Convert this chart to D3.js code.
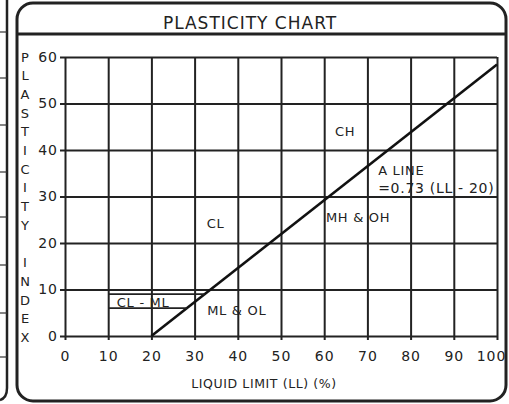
<!DOCTYPE html>
<html>
<head>
<meta charset="utf-8">
<script src="https://cdn.jsdelivr.net/npm/d3@7"></script>
<style>
  body { margin: 0; background: #fff; }
  text { font-family: "DejaVu Sans", sans-serif; fill: #222; }
</style>
</head>
<body>
<div id="grafica"></div>
<script>
// valores
var llTicks = [0, 10, 20, 30, 40, 50, 60, 70, 80, 90, 100];
var piTicks = [0, 10, 20, 30, 40, 50, 60];
var aLine = [{ ll: 20, pi: 0 }, { ll: 100, pi: 58.4 }];
var clmlTop = [{ ll: 10, pi: 9 }, { ll: 32.3, pi: 9 }];
var clmlBottom = [{ ll: 10, pi: 6 }, { ll: 28.2, pi: 6 }];
var zoneNames = ["CH", "A LINE", "=0.73 (LL - 20)", "CL", "MH & OH", "ML & OL", "CL - ML"];
var zoneLL = [62.5, 72.5, 72.5, 32.8, 60.4, 32.9, 12];
var zonePI = [44, 35.7, 31.8, 24.3, 25.6, 5.6, 7.3];
var yTitle = "PLASTICITY INDEX";
var xTitle = "LIQUID LIMIT (LL) (%)";
var title = "PLASTICITY CHART";

var W = 509, H = 404;
var svg = d3.select("#grafica").append("svg")
  .attr("width", W).attr("height", H);

// marco de la página (tira izquierda y recuadro redondeado)
svg.append("path")
  .attr("d", "M7,0 L7,388 Q7,398 0,400")
  .attr("fill", "none").attr("stroke", "#222").attr("stroke-width", 2.5);
[32, 78, 125, 172, 217, 265, 313, 357].forEach(function (yy) {
  svg.append("line").attr("x1", 0).attr("x2", 7).attr("y1", yy).attr("y2", yy)
    .attr("stroke", "#333").attr("stroke-width", 1.2);
});
svg.append("rect")
  .attr("x", 17).attr("y", 3).attr("width", 489).attr("height", 398)
  .attr("rx", 16)
  .attr("fill", "none").attr("stroke", "#222").attr("stroke-width", 3);
svg.append("line")
  .attr("x1", 17).attr("x2", 506).attr("y1", 34).attr("y2", 34)
  .attr("stroke", "#222").attr("stroke-width", 3);

svg.append("text")
  .attr("x", 250).attr("y", 29)
  .attr("text-anchor", "middle")
  .style("font-size", "17px")
  .style("letter-spacing", "1px")
  .text(title);

// escalas
var x = d3.scaleLinear().domain([0, 100]).range([65, 497]);
var y = d3.scaleLinear().domain([0, 60]).range([336, 57]);
var plotW = x(100) - x(0), plotH = y(0) - y(60);

// rejilla + ejes
var gx = svg.append("g")
  .attr("transform", "translate(0," + (y(0) + 4) + ")")
  .call(d3.axisBottom(x).tickValues(llTicks).tickSizeInner(-(plotH + 4)).tickSizeOuter(0).tickPadding(11));
var gy = svg.append("g")
  .attr("transform", "translate(" + (x(0) - 5) + ",0)")
  .call(d3.axisLeft(y).tickValues(piTicks).tickSizeInner(-(plotW + 5)).tickSizeOuter(0).tickPadding(2));
[gx, gy].forEach(function (g) {
  g.select(".domain").remove();
  g.selectAll(".tick line").attr("stroke", "#222").attr("stroke-width", 2);
  g.selectAll(".tick text")
    .style("font-family", "'DejaVu Sans', sans-serif")
    .style("font-size", "14px")
    .style("letter-spacing", "1px")
    .attr("fill", "#222");
});
// el "100" queda pegado al borde: lo corremos un poco a la izquierda
gx.selectAll(".tick text").filter(function (d) { return d == 100; }).attr("dx", -6);

// línea A
var line = d3.line().x(function (d) { return x(d.ll); }).y(function (d) { return y(d.pi); });
svg.append("path").datum(aLine).attr("d", line)
  .attr("fill", "none").attr("stroke", "#111").attr("stroke-width", 2.6);

// banda CL-ML
[clmlTop, clmlBottom].forEach(function (seg) {
  svg.append("path").datum(seg).attr("d", line)
    .attr("fill", "none").attr("stroke", "#222").attr("stroke-width", 1.6);
});

// etiquetas de zonas
svg.selectAll("zonas")
  .data(zoneNames)
  .enter()
  .append("text")
  .attr("x", function (d, i) { return x(zoneLL[i]); })
  .attr("y", function (d, i) { return y(zonePI[i]); })
  .attr("dy", "0.35em")
  .style("font-size", function (d) { return d.charAt(0) == "=" ? "14px" : "13px"; })
  .style("letter-spacing", "0.7px")
  .text(function (d) { return d; });

// título eje y, letra a letra
svg.selectAll("letrasY")
  .data(yTitle.split(""))
  .enter()
  .append("text")
  .attr("x", 25)
  .attr("y", function (d, i) { return 57 + i * 18.7; })
  .attr("dy", "0.35em")
  .attr("text-anchor", "middle")
  .style("font-size", "13px")
  .text(function (d) { return d; });

// título eje x
svg.append("text")
  .attr("x", 264).attr("y", 388)
  .attr("text-anchor", "middle")
  .style("font-size", "12.5px")
  .style("letter-spacing", "0.6px")
  .text(xTitle);
</script>
</body>
</html>
